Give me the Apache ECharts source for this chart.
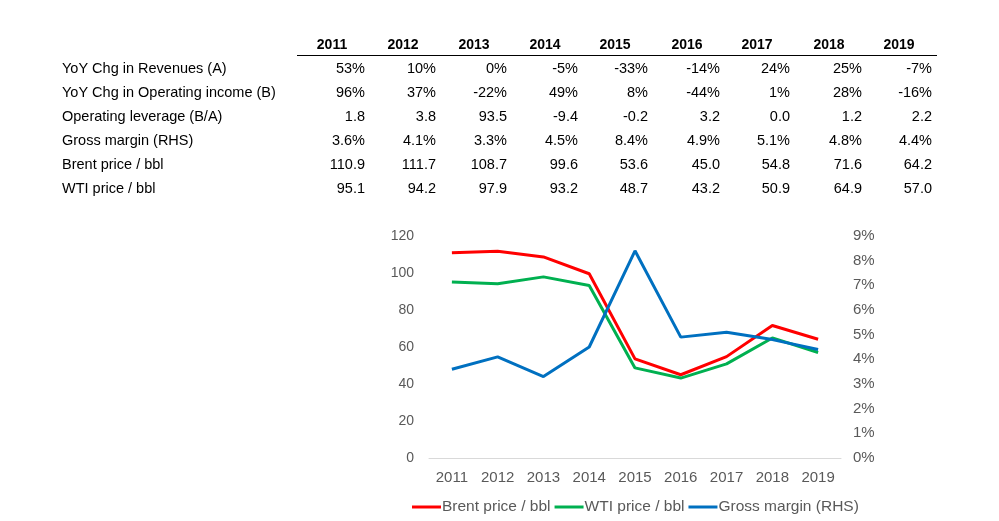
<!DOCTYPE html>
<html><head><meta charset="utf-8">
<script src="https://cdn.jsdelivr.net/npm/echarts@6/dist/echarts.min.js"></script>
<style>html,body{margin:0;padding:0;background:#fff}#c{width:999px;height:521px}</style>
</head><body><div id="c"></div>
<script>
var years = ['2011','2012','2013','2014','2015','2016','2017','2018','2019'];
var rowLabels = ['YoY Chg in Revenues (A)','YoY Chg in Operating income (B)','Operating leverage (B/A)','Gross margin (RHS)','Brent price / bbl','WTI price / bbl'];
var revChg = ['53%','10%','0%','-5%','-33%','-14%','24%','25%','-7%'];
var opIncChg = ['96%','37%','-22%','49%','8%','-44%','1%','28%','-16%'];
var opLev = ['1.8','3.8','93.5','-9.4','-0.2','3.2','0.0','1.2','2.2'];
var grossMargin = [3.6,4.1,3.3,4.5,8.4,4.9,5.1,4.8,4.4];
var brent = [110.9,111.7,108.7,99.6,53.6,45.0,54.8,71.6,64.2];
var wti = [95.1,94.2,97.9,93.2,48.7,43.2,50.9,64.9,57.0];
var leftTicks = {min:0,max:120,interval:20};
var rightTicks = {min:0,max:9,interval:1};

var tableRows = [revChg, opIncChg, opLev,
  grossMargin.map(function(v){return v.toFixed(1)+'%';}),
  brent.map(function(v){return v.toFixed(1);}),
  wti.map(function(v){return v.toFixed(1);})];

var font = 'Liberation Sans, Arial, sans-serif';
var colRight = [365,436,507,578,648,720,790,862,932];
var headerY = 45, rowY0 = 69, rowStep = 24;
var g = [];
years.forEach(function(y,i){
  g.push({type:'text',x:colRight[i]-33,y:headerY,style:{text:y,fontFamily:font,fontSize:14,fontWeight:'bold',fill:'#000',align:'center',verticalAlign:'middle'}});
});
g.push({type:'line',shape:{x1:297,y1:55.5,x2:937,y2:55.5},style:{stroke:'#000',lineWidth:1}});
rowLabels.forEach(function(l,r){
  var yy = rowY0 + r*rowStep;
  g.push({type:'text',x:62,y:yy,style:{text:l,fontFamily:font,fontSize:14.5,fill:'#000',align:'left',verticalAlign:'middle'}});
  tableRows[r].forEach(function(v,i){
    g.push({type:'text',x:colRight[i],y:yy,style:{text:v,fontFamily:font,fontSize:14.5,fill:'#000',align:'right',verticalAlign:'middle'}});
  });
});

var chart = echarts.init(document.getElementById('c'));
chart.setOption({
  animation:false,
  textStyle:{fontFamily:font},
  graphic:g,
  grid:{left:429,right:158,top:236,bottom:63,containLabel:false},
  legend:{top:499,left:412,itemWidth:29,itemHeight:3,itemGap:4,icon:'rect',padding:0,
    textStyle:{fontFamily:font,fontSize:15.5,color:'#595959',padding:[0,0,0,-4]},
    data:['Brent price / bbl','WTI price / bbl','Gross margin (RHS)']},
  xAxis:{type:'category',data:years,boundaryGap:true,
    axisLine:{lineStyle:{color:'#D9D9D9',width:1}},axisTick:{show:false},
    axisLabel:{color:'#595959',fontSize:15,margin:12,fontFamily:font}},
  yAxis:[
    {type:'value',min:leftTicks.min,max:leftTicks.max,interval:leftTicks.interval,
     splitLine:{show:false},axisLine:{show:false},axisTick:{show:false},
     axisLabel:{color:'#595959',fontSize:14,margin:15,fontFamily:font}},
    {type:'value',min:rightTicks.min,max:rightTicks.max,interval:rightTicks.interval,
     splitLine:{show:false},axisLine:{show:false},axisTick:{show:false},
     axisLabel:{color:'#595959',fontSize:15,margin:12,fontFamily:font,formatter:'{value}%'}}
  ],
  series:[
    {name:'Brent price / bbl',type:'line',data:brent,yAxisIndex:0,symbol:'none',lineStyle:{color:'#FF0000',width:3},itemStyle:{color:'#FF0000'}},
    {name:'WTI price / bbl',type:'line',data:wti,yAxisIndex:0,symbol:'none',lineStyle:{color:'#00B050',width:3},itemStyle:{color:'#00B050'}},
    {name:'Gross margin (RHS)',type:'line',data:grossMargin,yAxisIndex:1,symbol:'none',lineStyle:{color:'#0070C0',width:3},itemStyle:{color:'#0070C0'}}
  ]
});
</script></body></html>
